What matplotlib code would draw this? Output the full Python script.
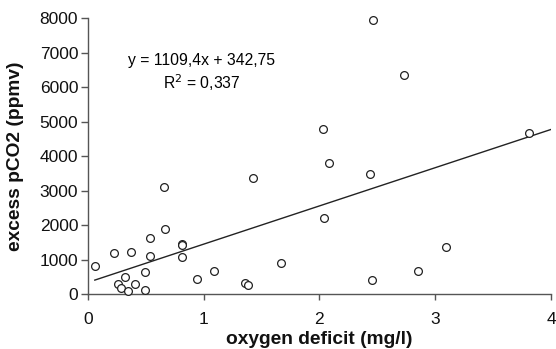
import matplotlib
matplotlib.use("Agg")
import matplotlib.pyplot as plt
import numpy as np

# données
oxygen_deficit = [0.06, 0.23, 0.37, 0.26, 0.29, 0.32, 0.35, 0.41, 0.49, 0.49,
                  0.54, 0.54, 0.66, 0.67, 0.81, 0.81, 0.81, 0.94, 1.09, 1.36,
                  1.38, 1.43, 1.67, 2.46, 2.73, 2.03, 3.81, 2.08, 2.44, 2.04,
                  3.09, 2.85, 2.45]
excess_pco2 = [810, 1200, 1230, 290, 175, 500, 90, 290, 125, 630,
               1640, 1120, 3100, 1890, 1470, 1420, 1080, 440, 680, 330,
               280, 3380, 920, 7950, 6350, 4800, 4670, 3800, 3490, 2200,
               1370, 680, 410]
slope = 1109.4
intercept = 342.75
x_ticks = [0, 1, 2, 3, 4]
y_ticks = [0, 1000, 2000, 3000, 4000, 5000, 6000, 7000, 8000]

plt.rcParams['font.family'] = ['Liberation Sans', 'DejaVu Sans']

fig = plt.figure(figsize=(5.56, 3.49), dpi=100)
ax = fig.add_axes([0.158, 0.157, 0.833, 0.79])

ax.plot(oxygen_deficit, excess_pco2, 'o', mfc='white', mec='#222222',
        ms=5.6, mew=0.9, clip_on=False, zorder=3)

# droite de régression
x_fit = np.array([min(oxygen_deficit), 4])
ax.plot(x_fit, slope * x_fit + intercept, color='#222222', lw=1.0, zorder=2)

ax.text(0.98, 6780, "y = 1109,4x + 342,75", ha='center', va='center', fontsize=11.3)
ax.text(0.98, 6140, "R$^2$ = 0,337", ha='center', va='center', fontsize=11.3)

ax.set_xlim(0, 4)
ax.set_ylim(0, 8000)
ax.set_xticks(x_ticks)
ax.set_yticks(y_ticks)
ax.set_xticklabels([str(v) for v in x_ticks])
ax.set_yticklabels([str(v) for v in y_ticks])

for s in ['top', 'right']:
    ax.spines[s].set_visible(False)
for s in ['left', 'bottom']:
    ax.spines[s].set_color('#555555')
    ax.spines[s].set_linewidth(1.0)

ax.tick_params(axis='both', colors='#555555', labelcolor='#111111', labelsize=12.5,
               width=1.0, direction='out')
ax.tick_params(axis='x', length=4, pad=9)
ax.tick_params(axis='y', length=5, pad=2)

ax.set_xlabel("oxygen deficit (mg/l)", fontsize=13.8, fontweight='bold', color='#111111')
ax.set_ylabel("excess pCO2 (ppmv)", fontsize=13.8, fontweight='bold', color='#111111')
ax.xaxis.set_label_coords(0.5, -0.135)
ax.yaxis.set_label_coords(-0.138, 0.5)

fig.savefig("out.png", dpi=100)
